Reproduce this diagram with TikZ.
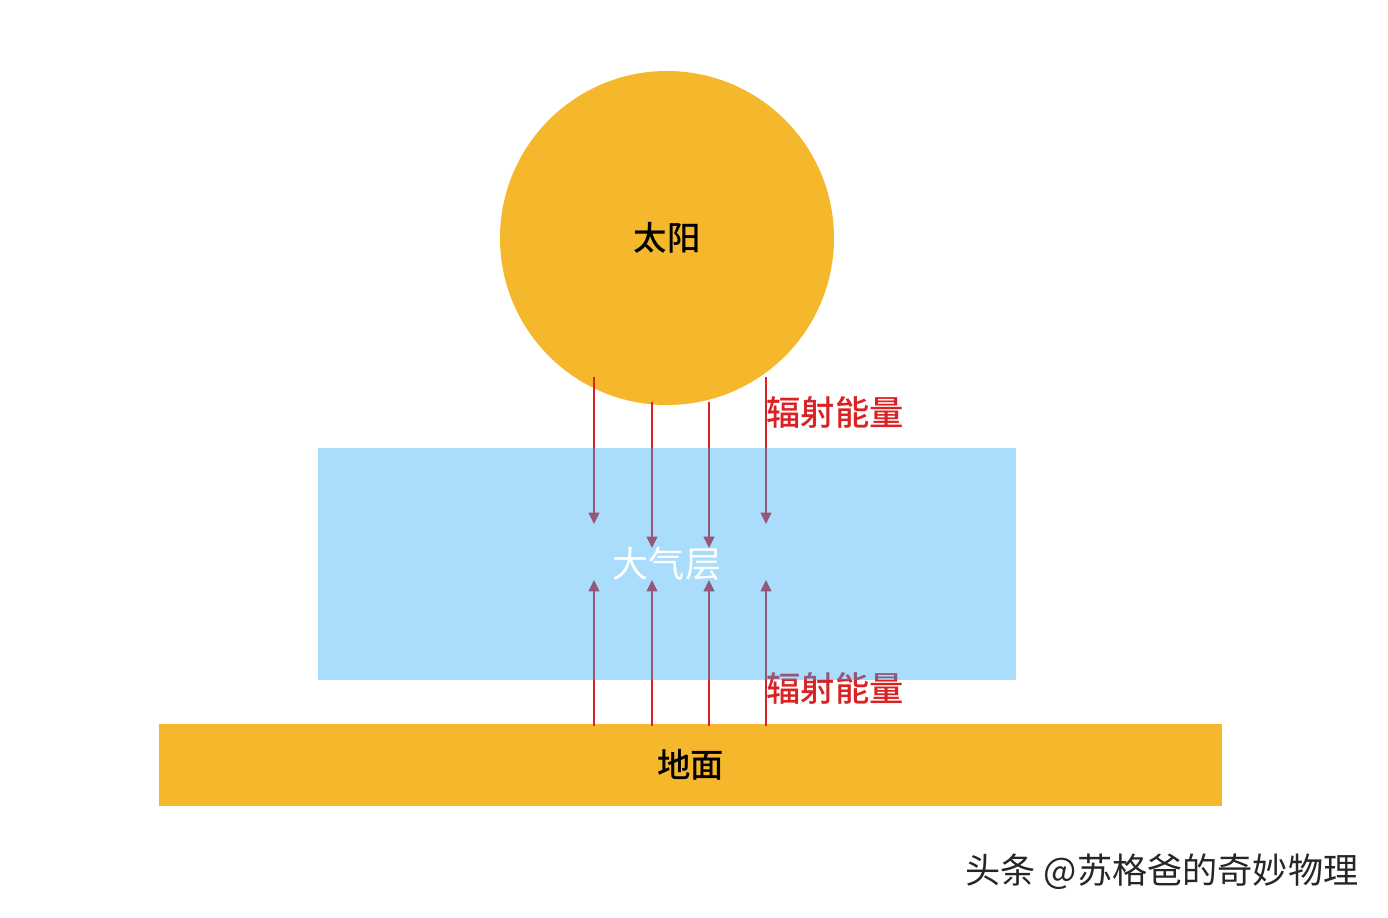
\documentclass[tikz,border=0pt]{standalone}
\usepackage{fontspec}
\setmainfont{Noto Sans CJK SC}[BoldFont={Noto Sans CJK SC Medium}]
\usepackage{tikz}
\usetikzlibrary{arrows.meta}

\definecolor{sunorange}{RGB}{245,183,44}
\definecolor{airblue}{RGB}{42,167,247}
\definecolor{rayred}{RGB}{218,34,36}

\begin{document}
\begin{tikzpicture}[
	body/.style={fill=sunorange,draw=none,inner sep=0mm,font=\fontsize{19}{19}\selectfont\bfseries},
	ray/.style={draw=rayred,line width=1.25pt,-{Triangle[width=6pt,length=6.5pt]}},
	raylabel/.style={text=rayred,font=\fontsize{19.5}{19.5}\selectfont\bfseries,inner sep=0mm}]
	\useasboundingbox (0,0) rectangle (27.76,-18.36);
	\node (sun)    at (13.34, -4.76) [body,circle,minimum size=6.68cm] {太阳};
	\node (ground) at (13.81,-15.30) [body,rectangle,minimum width=21.26cm,minimum height=1.64cm] {地面};
	% rays from the sun
	\coordinate (d1) at (11.88, -7.54);  \coordinate (d1e) at (11.88,-10.48);
	\coordinate (d2) at (13.04, -8.04);  \coordinate (d2e) at (13.04,-10.96);
	\coordinate (d3) at (14.18, -8.04);  \coordinate (d3e) at (14.18,-10.96);
	\coordinate (d4) at (15.32, -7.54);  \coordinate (d4e) at (15.32,-10.48);
	% rays from the ground
	\coordinate (u1) at (11.88,-14.52);  \coordinate (u1e) at (11.88,-11.60);
	\coordinate (u2) at (13.04,-14.52);  \coordinate (u2e) at (13.04,-11.60);
	\coordinate (u3) at (14.18,-14.52);  \coordinate (u3e) at (14.18,-11.60);
	\coordinate (u4) at (15.32,-14.52);  \coordinate (u4e) at (15.32,-11.60);
	\draw [ray] (d1) -- (d1e);
	\draw [ray] (d2) -- (d2e);
	\draw [ray] (d3) -- (d3e);
	\draw [ray] (d4) -- (d4e);
	\draw [ray] (u1) -- (u1e);
	\draw [ray] (u2) -- (u2e);
	\draw [ray] (u3) -- (u3e);
	\draw [ray] (u4) -- (u4e);
	\node (top label) at (16.70, -8.24) [raylabel] {辐射能量};
	\node (low label) at (16.70,-13.76) [raylabel] {辐射能量};
	% atmosphere sits over the rays
	\node (air) at (13.34,-11.28) [rectangle,fill=airblue,fill opacity=0.4,text opacity=1,text=white,
		minimum width=13.96cm,minimum height=4.64cm,font=\fontsize{20.5}{20.5}\selectfont] {大气层};
	\node (mark) at (23.24,-17.44) [text=black!85,font=\fontsize{20}{20}\selectfont] {头条 @苏格爸的奇妙物理};
\end{tikzpicture}
\end{document}
